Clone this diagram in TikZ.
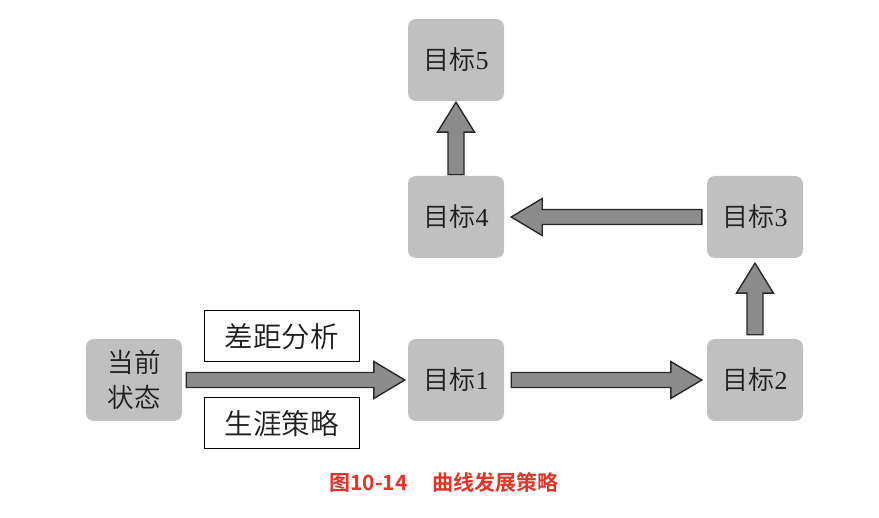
\documentclass[tikz,border=0pt]{standalone}
\usepackage{fontspec}
\setmainfont{Liberation Serif}
\newfontfamily\cjk{Noto Sans CJK SC DemiLight}
\newfontfamily\cjkb{Noto Sans CJK SC Bold}
\usetikzlibrary{calc}
\definecolor{boxgray}{RGB}{192,192,192}
\definecolor{arrgray}{RGB}{140,140,140}
\definecolor{arredge}{RGB}{40,40,40}
\definecolor{txt}{RGB}{30,30,30}
\definecolor{capred}{RGB}{226,52,40}
\tikzset{
  goal/.style={fill=boxgray, rounded corners=8pt, minimum width=96pt, minimum height=82pt,
    inner sep=0pt, text=txt, font=\fontsize{26pt}{30pt}\selectfont},
  label box/.style={draw=black, line width=1pt, fill=white, minimum width=155pt, minimum height=51pt,
    inner sep=0pt, text=txt, font=\cjk\fontsize{28.5pt}{32pt}\selectfont},
  fatarrow/.style={draw=arredge, fill=arrgray, line width=1.4pt, line join=miter},
}
% horizontal fat arrow: #1 tail, #2 tip, #3 direction (1 right, -1 left)
\newcommand\hfat[3]{%
  \draw[fatarrow] ($(#1)+(0,7.5)$) -- ($(#2)+({-31*(#3)},7.5)$) -- ($(#2)+({-31*(#3)},18.5)$) -- (#2)
    -- ($(#2)+({-31*(#3)},-18.5)$) -- ($(#2)+({-31*(#3)},-7.5)$) -- ($(#1)+(0,-7.5)$) -- cycle;}
% vertical fat arrow upward: #1 tail, #2 tip
\newcommand\vfat[2]{%
  \draw[fatarrow] ($(#1)+(-8,0)$) -- ($(#2)+(-8,30)$) -- ($(#2)+(-18.5,30)$) -- (#2)
    -- ($(#2)+(18.5,30)$) -- ($(#2)+(8,30)$) -- ($(#1)+(8,0)$) -- cycle;}
\begin{document}
\begin{tikzpicture}[x=1pt,y=-1pt]
\useasboundingbox (0,0) rectangle (879,518);
\fill[white] (0,0) rectangle (879,518);

\node[goal, align=center, font=\cjk\fontsize{26.5pt}{35pt}\selectfont] (cur) at (134,380) {当前\\状态};
\node[goal] (g1) at (456,380) {{\cjk 目标}1};
\node[goal] (g2) at (755,380) {{\cjk 目标}2};
\node[goal] (g3) at (755,217) {{\cjk 目标}3};
\node[goal] (g4) at (456,217) {{\cjk 目标}4};
\node[goal] (g5) at (456,60) {{\cjk 目标}5};

\node[label box] (gap) at (281.5,336.5) {差距分析};
\node[label box] (str) at (281.5,423.5) {生涯策略};

\coordinate (a1s) at ($(cur.east)+(4,0)$);
\coordinate (a1t) at ($(g1.west)+(-3,0)$);
\hfat{a1s}{a1t}{1}
\coordinate (a2s) at ($(g1.east)+(7,0)$);
\coordinate (a2t) at ($(g2.west)+(-5,0)$);
\hfat{a2s}{a2t}{1}
\coordinate (a3s) at ($(g2.north)+(0,-4)$);
\coordinate (a3t) at ($(g3.south)+(0,5)$);
\vfat{a3s}{a3t}
\coordinate (a4s) at ($(g3.west)+(-5,0)$);
\coordinate (a4t) at ($(g4.east)+(7,0)$);
\hfat{a4s}{a4t}{-1}
\coordinate (a5s) at ($(g4.north)+(0,-1)$);
\coordinate (a5t) at ($(g5.south)+(0,1)$);
\vfat{a5s}{a5t}

\node[text=capred, font=\cjkb\fontsize{21pt}{24pt}\selectfont, inner sep=0pt] (cap) at (444,483) {图10-14\hspace{25pt}曲线发展策略};
\end{tikzpicture}
\end{document}
